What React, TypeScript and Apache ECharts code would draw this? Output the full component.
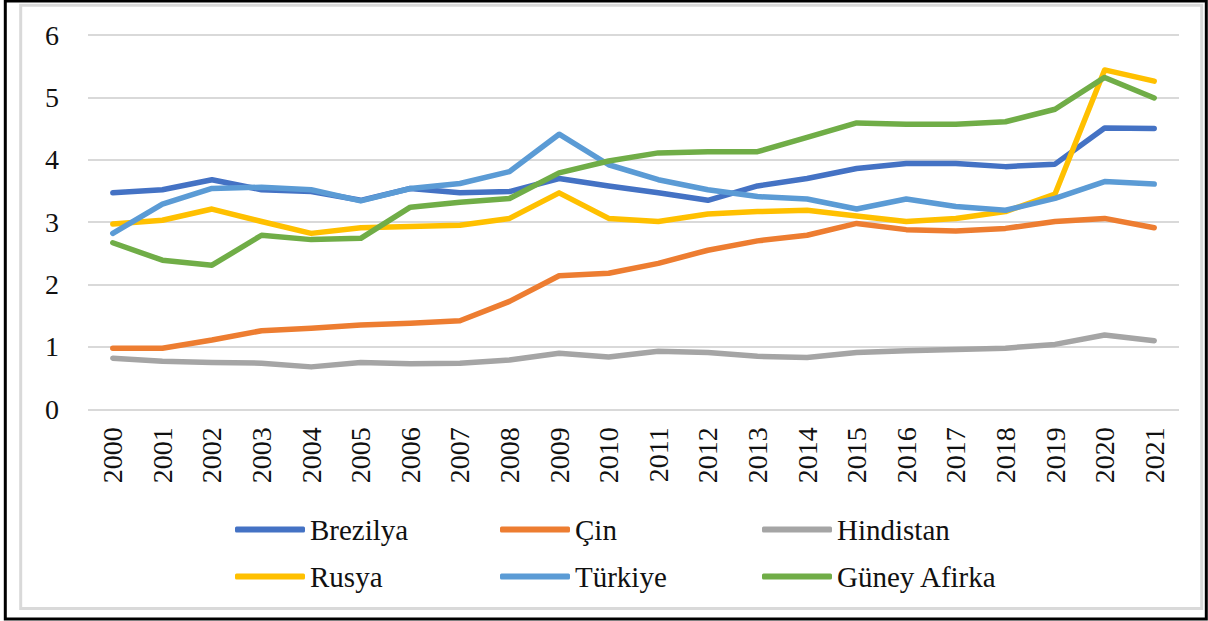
import React, { useEffect, useRef } from "react";
import * as echarts from "echarts";

const years = ["2000","2001","2002","2003","2004","2005","2006","2007","2008","2009","2010","2011","2012","2013","2014","2015","2016","2017","2018","2019","2020","2021"];

const brezilya = [3.47,3.52,3.68,3.52,3.49,3.35,3.54,3.47,3.49,3.70,3.58,3.47,3.35,3.58,3.70,3.86,3.94,3.94,3.89,3.93,4.51,4.50];
const cin = [0.98,0.98,1.11,1.26,1.30,1.35,1.38,1.42,1.73,2.14,2.18,2.34,2.55,2.70,2.79,2.98,2.88,2.86,2.90,3.01,3.06,2.91];
const hindistan = [0.82,0.77,0.75,0.74,0.68,0.75,0.73,0.74,0.79,0.90,0.84,0.93,0.91,0.85,0.83,0.91,0.94,0.96,0.98,1.04,1.19,1.10];
const rusya = [2.97,3.03,3.21,3.01,2.82,2.91,2.93,2.95,3.06,3.47,3.06,3.01,3.13,3.17,3.19,3.10,3.01,3.06,3.17,3.45,5.44,5.26];
const turkiye = [2.82,3.29,3.54,3.56,3.52,3.34,3.54,3.62,3.81,4.41,3.92,3.68,3.52,3.41,3.37,3.21,3.37,3.25,3.19,3.38,3.65,3.61];
const guneyAfrika = [2.67,2.39,2.31,2.79,2.72,2.74,3.24,3.32,3.38,3.79,3.98,4.11,4.13,4.13,4.36,4.59,4.57,4.57,4.61,4.81,5.32,4.99];

const seriesNames = ["Brezilya","Çin","Hindistan","Rusya","Türkiye","Güney Afirka"];
const seriesData = [brezilya, cin, hindistan, rusya, turkiye, guneyAfrika];
const seriesColors = ["#4472C4","#ED7D31","#A5A5A5","#FFC000","#5B9BD5","#70AD47"];

const FONT = "Liberation Serif, serif";

export default function App() {
  const ref = useRef<HTMLDivElement>(null);
  useEffect(() => {
    if (!ref.current) return;
    const chart = echarts.init(ref.current, undefined, { renderer: "svg" });
    const legendCommon = {
      orient: "vertical" as const,
      top: 509,
      itemWidth: 70,
      itemHeight: 6,
      itemGap: 16,
      icon: "roundRect",
      textStyle: { fontFamily: FONT, fontSize: 29, color: "#111111", lineHeight: 31 },
      selectedMode: false,
    };
    chart.setOption({
      animation: false,
      backgroundColor: "#ffffff",
      color: seriesColors,
      grid: { left: 88, right: 29, top: 35, bottom: 211.7, containLabel: false },
      legend: [
        { ...legendCommon, left: 230, data: [seriesNames[0], seriesNames[3]] },
        { ...legendCommon, left: 495, data: [seriesNames[1], seriesNames[4]] },
        { ...legendCommon, left: 757, data: [seriesNames[2], seriesNames[5]] },
      ],
      xAxis: {
        type: "category",
        data: years,
        boundaryGap: true,
        axisLine: { show: false },
        axisTick: { show: false },
        axisLabel: {
          rotate: 90,
          margin: 18,
          interval: 0,
          fontFamily: FONT,
          fontSize: 28,
          color: "#111111",
        },
      },
      yAxis: {
        type: "value",
        min: 0,
        max: 6,
        interval: 1,
        axisLine: { show: false },
        axisTick: { show: false },
        splitLine: { lineStyle: { color: "#d9d9d9", width: 2 } },
        axisLabel: { margin: 29, fontFamily: FONT, fontSize: 28, color: "#111111" },
      },
      graphic: [
        {
          type: "rect",
          shape: { x: 20.7, y: 5.3, width: 1181, height: 603.2 },
          style: { fill: "none", stroke: "#d9d9d9", lineWidth: 3 },
          silent: true,
          z: -1,
        },
        {
          type: "rect",
          shape: { x: 5.3, y: 1, width: 1201, height: 618 },
          style: { fill: "none", stroke: "#000000", lineWidth: 3 },
          silent: true,
          z: -1,
        },
      ],
      series: seriesNames.map((name, i) => ({
        name,
        type: "line",
        data: seriesData[i],
        showSymbol: false,
        symbol: "none",
        lineStyle: { width: 5.5, color: seriesColors[i], cap: "round", join: "round" },
        itemStyle: { color: seriesColors[i] },
      })),
    });
    return () => chart.dispose();
  }, []);
  return (
    <div
      ref={ref}
      style={{ position: "absolute", left: 0, top: 0, width: 1208, height: 621, background: "#fff" }}
    />
  );
}
